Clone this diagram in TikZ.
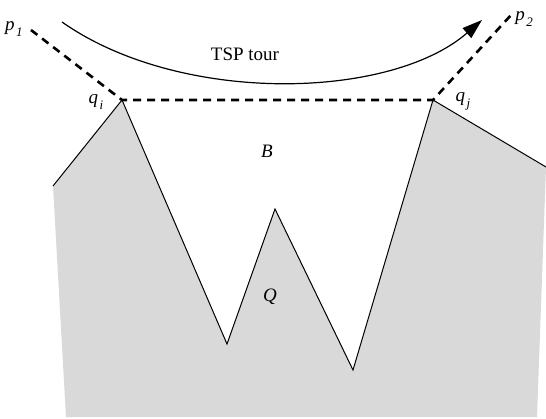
\documentclass[tikz,border=0pt]{standalone}
\usepackage{fontspec}
\setmainfont{Liberation Serif}
\usetikzlibrary{arrows.meta}
\definecolor{regiongray}{RGB}{217,217,217}
\tikzset{
  lbl/.style={inner sep=0pt, font=\fontsize{19}{21}\selectfont},
  dashline/.style={line width=2.6pt, dash pattern=on 8pt off 6pt},
  outline/.style={line width=1pt},
  tour/.style={line width=1.2pt, -{Triangle[length=20pt,width=13pt]}}
}
\newcommand{\lab}[2]{\textit{#1}\kern1.5pt\raisebox{-6pt}{\fontsize{13}{14}\selectfont\textit{#2}}}
\begin{document}
\begin{tikzpicture}[x=1pt,y=-1pt]
\useasboundingbox (0,0) rectangle (546,419);
% polygon vertices
\coordinate (a) at (53,186);
\coordinate (qi) at (122,100);
\coordinate (v1) at (227,344);
\coordinate (pk) at (275,209);
\coordinate (v2) at (353,370);
\coordinate (qj) at (433,100);
\coordinate (b) at (546,167);
\coordinate (c) at (537,417);
\coordinate (d) at (66,417);
\coordinate (p1) at (31,30);
\coordinate (p2) at (512,14);
\coordinate (ts) at (62,22);
\coordinate (te) at (482,20);
% region Q
\fill[regiongray] (a) -- (qi) -- (v1) -- (pk) -- (v2) -- (qj) -- (b) -- (c) -- (d) -- cycle;
\draw[outline] (a) -- (qi) -- (v1) -- (pk) -- (v2) -- (qj) -- (b);
% dashed path
\draw[dashline] (p1) -- (qi) -- (qj) -- (p2);
% tour
\draw[tour] (ts) .. controls (180,105) and (390,100) .. (te);
% labels
\node[lbl] (lp1) at (14,29) {\lab{p}{1}};
\node[lbl] (lp2) at (524,19) {\lab{p}{2}};
\node[lbl] (lqi) at (96,102) {\lab{q}{i}};
\node[lbl] (lqj) at (463,101) {\lab{q}{j}};
\node[lbl] (ltsp) at (245,54) {TSP tour};
\node[lbl] (lB) at (267,151) {\textit{B}};
\node[lbl] (lQ) at (270,297) {\textit{Q}};
\end{tikzpicture}
\end{document}
